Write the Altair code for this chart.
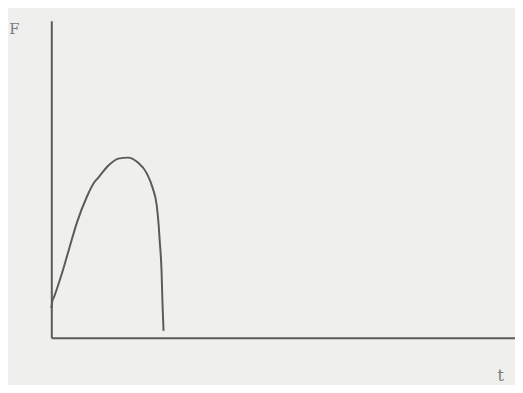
import altair as alt
import pandas as pd

t_vals = [0, 1, 3, 10, 18, 26, 36, 43, 48, 58, 68, 78, 88, 97, 103, 107, 109, 110, 112, 113, 114]
f_vals = [30, 37, 42, 63, 90, 117, 143, 157, 163, 175, 182, 183, 178, 167, 152, 135, 115, 100, 67, 33, 7]

df = pd.DataFrame({"t": t_vals, "F": f_vals})

line = alt.Chart(df).mark_line(color="#5a5a5a", strokeWidth=2, interpolate="monotone").encode(
    x=alt.X("t:Q", scale=alt.Scale(domain=[0, 471], nice=False, zero=True),
            axis=alt.Axis(title="t", labels=False, ticks=False, grid=False,
                          domainColor="#5a5a5a", domainWidth=2,
                          titleX=456, titleY=38, titleAlign="center", titleBaseline="middle",
                          titleFont="DejaVu Serif", titleFontSize=16, titleFontWeight="normal",
                          titleColor="#7a7a7a")),
    y=alt.Y("F:Q", scale=alt.Scale(domain=[0, 322], nice=False, zero=True),
            axis=alt.Axis(title="F", labels=False, ticks=False, grid=False,
                          domainColor="#5a5a5a", domainWidth=2, titleAngle=0,
                          titleX=-38, titleY=8, titleAlign="center", titleBaseline="middle",
                          titleFont="DejaVu Serif", titleFontSize=15, titleFontWeight="normal",
                          titleColor="#7a7a7a")),
)

chart = line.properties(
    width=471, height=322,
    autosize=alt.AutoSizeParams(type="none"),
    padding={"left": 44, "top": 10, "right": 0, "bottom": 45},
    background="#efefed",
).configure_view(stroke=None)

chart.save("out.html", embed_options={"renderer": "svg", "actions": False})
